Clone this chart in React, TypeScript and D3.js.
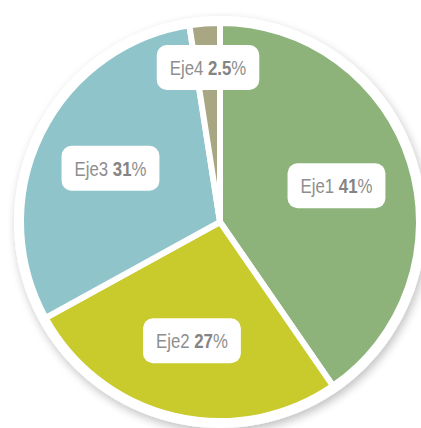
import React, { useEffect, useRef } from "react";
import * as d3 from "d3";

const categories = ["Eje1", "Eje2", "Eje3", "Eje4"];
const values = [41, 27, 31, 2.5];
const valueLabels = ["41", "27", "31", "2.5"];
const colors = ["#8db37b", "#c9ca2b", "#8fc4ca", "#a9a684"];

const W = 421;
const H = 428;

export default function App() {
  const ref = useRef<SVGSVGElement | null>(null);

  useEffect(() => {
    const svg = d3.select(ref.current);
    svg.selectAll("*").remove();

    const cx = 220;
    const cy = 222;
    const R = 199;

    const defs = svg.append("defs");
    const f = defs
      .append("filter")
      .attr("id", "sh")
      .attr("x", "-20%")
      .attr("y", "-20%")
      .attr("width", "140%")
      .attr("height", "140%");
    f.append("feGaussianBlur").attr("in", "SourceAlpha").attr("stdDeviation", 5);
    f.append("feOffset").attr("dx", 2).attr("dy", 4).attr("result", "ob");
    f.append("feComponentTransfer")
      .append("feFuncA")
      .attr("type", "linear")
      .attr("slope", 0.25);
    const m = f.append("feMerge");
    m.append("feMergeNode");
    m.append("feMergeNode").attr("in", "SourceGraphic");

    const g = svg.append("g").attr("transform", `translate(${cx},${cy})`);

    g.append("circle").attr("r", R + 7).attr("fill", "#fff").attr("filter", "url(#sh)");

    const pie = d3
      .pie<number>()
      .sort(null)
      .value((d) => d);
    const arcs = pie(values);
    const arc = d3.arc<d3.PieArcDatum<number>>().innerRadius(0).outerRadius(R);

    g.selectAll("path.slice")
      .data(arcs)
      .join("path")
      .attr("class", "slice")
      .attr("d", arc)
      .attr("fill", (_, i) => colors[i])
      .attr("stroke", "#fff")
      .attr("stroke-width", 6)
      .attr("stroke-linejoin", "miter");

    const total = d3.sum(values);
    const sx = 0.8;
    arcs.forEach((a, i) => {
      const share = values[i] / total;
      const lr = share < 0.05 ? 155 : 122;
      const la = d3.arc<d3.PieArcDatum<number>>().innerRadius(lr).outerRadius(lr);
      const [lx, ly] = la.centroid(a);
      const lg = g.append("g").attr("transform", `translate(${lx},${ly})`);
      const rect = lg.append("rect").attr("fill", "#fff").attr("rx", 10).attr("ry", 10);
      const t = lg
        .append("text")
        .attr("transform", `scale(${sx},1)`)
        .attr("text-anchor", "middle")
        .attr("dy", "0.36em")
        .attr("font-family", "'Liberation Sans', Arial, sans-serif")
        .attr("font-size", 21)
        .attr("fill", "#8e8e8e");
      t.append("tspan").text(categories[i] + " ");
      t.append("tspan").attr("font-weight", "bold").attr("fill", "#848484").text(valueLabels[i]);
      t.append("tspan").text("%");
      const bw = (t.node() as SVGTextElement).getComputedTextLength() * sx + 26;
      const bh = 45;
      rect.attr("x", -bw / 2).attr("y", -bh / 2).attr("width", bw).attr("height", bh);
    });
  }, []);

  return (
    <svg
      ref={ref}
      width={W}
      height={H}
      style={{ position: "absolute", left: 0, top: 0, background: "#fff" }}
    />
  );
}
